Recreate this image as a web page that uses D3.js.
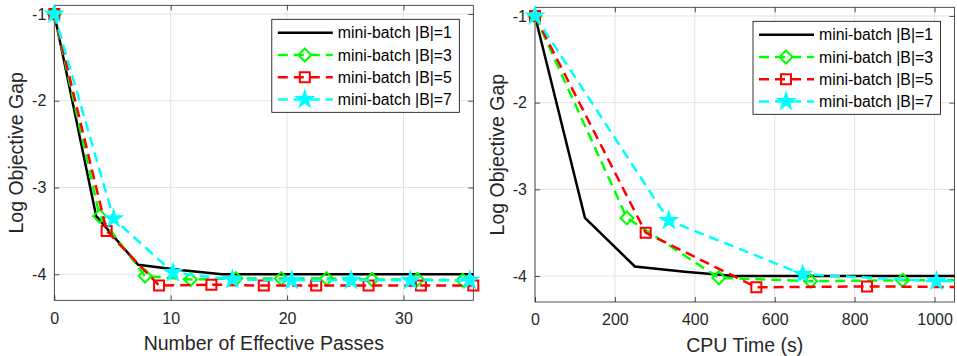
<!DOCTYPE html>
<html>
<head>
<meta charset="utf-8">
<script src="https://cdn.jsdelivr.net/npm/d3@7"></script>
<style>
  body { margin: 0; background: #fff; }
  svg { display: block; font-family: "Liberation Sans", Arial, Helvetica, sans-serif; }
</style>
</head>
<body>
<div id="chart"></div>
<script>
// series data
const labels = ["mini-batch |B|=1", "mini-batch |B|=3", "mini-batch |B|=5", "mini-batch |B|=7"];

const passesB1 = [0, 3.6, 7.2, 10.8, 14.4, 18, 21.6, 25.2, 28.8, 32.4, 36];
const timeB1   = [0, 125, 250, 375, 500, 625, 750, 875, 1000, 1125, 1250];
const gapB1    = [-1, -3.33, -3.89, -3.95, -4.0, -4.0, -4.0, -4.0, -4.0, -4.0, -4.0];

const passesB3 = [0, 3.9, 7.8, 11.7, 15.6, 19.5, 23.4, 27.3, 31.2, 35.1];
const timeB3   = [0, 230, 460, 690, 920, 1150, 1380, 1610, 1840, 2070];
const gapB3    = [-1, -3.33, -4.02, -4.06, -4.05, -4.05, -4.05, -4.06, -4.06, -4.07];

const passesB5 = [0, 4.5, 9, 13.5, 18, 22.5, 27, 31.5, 36];
const timeB5   = [0, 277, 554, 831, 1108, 1385, 1662, 1939, 2216];
const gapB5    = [-1, -3.5, -4.13, -4.12, -4.13, -4.13, -4.13, -4.13, -4.13];

const passesB7 = [0, 5.1, 10.2, 15.3, 20.4, 25.5, 30.6, 35.7];
const timeB7   = [0, 335, 670, 1005, 1340, 1675, 2010, 2345];
const gapB7    = [-1, -3.36, -3.98, -4.06, -4.07, -4.07, -4.07, -4.07];

const passTicks = [0, 10, 20, 30];
const timeTicks = [0, 200, 400, 600, 800, 1000];
const gapTicks  = [-4, -3, -2, -1];

const W = 957, H = 356;
const axisColor = "#262626";

const seriesStyle = [
  { color: "#000000", dash: null,   marker: null },
  { color: "#00ff00", dash: "10,6", marker: "diamond" },
  { color: "#ff0000", dash: "10,6", marker: "square" },
  { color: "#00ffff", dash: "10,6", marker: "star" }
];

function markerPath(type) {
  if (type == "diamond") {
    var r = 6.5;
    return "M0," + (-r) + "L" + r + ",0L0," + r + "L" + (-r) + ",0Z";
  }
  if (type == "square") {
    var s = 5;
    return "M" + (-s) + "," + (-s) + "H" + s + "V" + s + "H" + (-s) + "Z";
  }
  if (type == "star") {
    var ro = 8, ri = ro * 0.382, pts = [];
    for (var i = 0; i < 10; i++) {
      var a = -Math.PI / 2 + i * Math.PI / 5;
      var rr = i % 2 ? ri : ro;
      pts.push([rr * Math.cos(a), rr * Math.sin(a)]);
    }
    return "M" + pts.map(p => p.join(",")).join("L") + "Z";
  }
  return null;
}

const svg = d3.select("#chart").append("svg")
  .attr("width", W).attr("height", H);

function drawPanel(cfg) {
  const x = d3.scaleLinear().domain(cfg.xDomain).range([cfg.left, cfg.right]);
  const y = d3.scaleLinear().domain([-4.3, -0.9]).range([cfg.bottom, cfg.top]);
  const g = svg.append("g");

  const clipId = "clip" + cfg.id;
  svg.append("clipPath").attr("id", clipId).append("rect")
    .attr("x", cfg.left).attr("y", cfg.top)
    .attr("width", cfg.right - cfg.left).attr("height", cfg.bottom - cfg.top);

  // grid
  g.selectAll(".gx").data(cfg.xTicks).enter().append("line")
    .attr("x1", d => x(d)).attr("x2", d => x(d))
    .attr("y1", cfg.top).attr("y2", cfg.bottom)
    .attr("stroke", "#e3e3e3").attr("stroke-width", 1);
  g.selectAll(".gy").data(gapTicks).enter().append("line")
    .attr("x1", cfg.left).attr("x2", cfg.right)
    .attr("y1", d => y(d)).attr("y2", d => y(d))
    .attr("stroke", "#e3e3e3").attr("stroke-width", 1);

  // axes (inward ticks, box on)
  const bottomAxis = d3.axisBottom(x).tickValues(cfg.xTicks).tickSizeInner(-5).tickSizeOuter(0).tickPadding(12)
    .tickFormat(d => String(d));
  const topAxis = d3.axisTop(x).tickValues(cfg.xTicks).tickSizeInner(-5).tickSizeOuter(0).tickFormat("");
  const leftAxis = d3.axisLeft(y).tickValues(gapTicks).tickSizeInner(-5).tickSizeOuter(0).tickPadding(8)
    .tickFormat(d => String(d));
  const rightAxis = d3.axisRight(y).tickValues(gapTicks).tickSizeInner(-5).tickSizeOuter(0).tickFormat("");

  const axG = [
    g.append("g").attr("transform", "translate(0," + cfg.bottom + ")").call(bottomAxis),
    g.append("g").attr("transform", "translate(0," + cfg.top + ")").call(topAxis),
    g.append("g").attr("transform", "translate(" + cfg.left + ",0)").call(leftAxis),
    g.append("g").attr("transform", "translate(" + cfg.right + ",0)").call(rightAxis)
  ];
  axG.forEach(a => {
    a.select(".domain").remove();
    a.selectAll("line").attr("stroke", axisColor).attr("stroke-width", 0.8);
    a.selectAll("text").attr("fill", axisColor).style("font-size", "16px").attr("font-family", null);
  });
  g.append("rect")
    .attr("x", cfg.left).attr("y", cfg.top)
    .attr("width", cfg.right - cfg.left).attr("height", cfg.bottom - cfg.top)
    .attr("fill", "none").attr("stroke", axisColor).attr("stroke-width", 0.8);

  // series
  const line = d3.line().x(d => x(d[0])).y(d => y(d[1]));
  cfg.series.forEach((s, i) => {
    const st = seriesStyle[i];
    const pts = s.xs.map((v, k) => [v, s.ys[k]]);
    g.append("path").datum(pts)
      .attr("clip-path", "url(#" + clipId + ")")
      .attr("d", line)
      .attr("fill", "none")
      .attr("stroke", st.color)
      .attr("stroke-width", 2.5)
      .attr("stroke-dasharray", st.dash);
    if (st.marker) {
      const inside = pts.filter(p => p[0] >= cfg.xDomain[0] && p[0] <= cfg.xDomain[1] + 1e-9);
      g.selectAll(".m" + i).data(inside).enter().append("path")
        .attr("transform", d => "translate(" + x(d[0]) + "," + y(d[1]) + ")")
        .attr("d", markerPath(st.marker))
        .attr("fill", st.marker == "star" ? st.color : "none")
        .attr("stroke", st.color)
        .attr("stroke-width", 2)
        .attr("stroke-linejoin", "miter");
    }
  });

  // labels
  g.append("text")
    .attr("x", (cfg.left + cfg.right) / 2).attr("y", cfg.bottom + 50)
    .attr("text-anchor", "middle").attr("fill", axisColor)
    .style("font-size", "19.5px").text(cfg.xLabel);
  g.append("text")
    .attr("transform", "translate(" + (cfg.left - 31) + "," + ((cfg.top + cfg.bottom) / 2) + ") rotate(-90)")
    .attr("text-anchor", "middle").attr("fill", axisColor)
    .style("font-size", "19.5px").text("Log Objective Gap");

  // legend
  const lgW = 187.5, lgH = 93, rowH = 22.2;
  const lg = g.append("g")
    .attr("transform", "translate(" + (cfg.right - 14 - lgW) + "," + (cfg.top + 14) + ")");
  lg.append("rect").attr("width", lgW).attr("height", lgH)
    .attr("fill", "#fff").attr("stroke", "#000").attr("stroke-width", 0.8);
  labels.forEach((lab, i) => {
    const st = seriesStyle[i];
    const ry = 13.5 + i * rowH;
    lg.append("line")
      .attr("x1", 6).attr("x2", 61).attr("y1", ry).attr("y2", ry)
      .attr("stroke", st.color).attr("stroke-width", 2.5)
      .attr("stroke-dasharray", st.dash);
    if (st.marker) {
      lg.append("path")
        .attr("transform", "translate(33," + ry + ")")
        .attr("d", markerPath(st.marker))
        .attr("fill", st.marker == "star" ? st.color : "none")
        .attr("stroke", st.color).attr("stroke-width", 2);
    }
    lg.append("text")
      .attr("x", 66).attr("y", ry).attr("dy", "0.35em")
      .attr("fill", "#000").style("font-size", "15.8px").text(lab);
  });
}

drawPanel({
  id: "L", left: 54.3, right: 473.3, top: 5.3, bottom: 300.3,
  xDomain: [0, 36], xTicks: passTicks, xLabel: "Number of Effective Passes",
  series: [
    { xs: passesB1, ys: gapB1 },
    { xs: passesB3, ys: gapB3 },
    { xs: passesB5, ys: gapB5 },
    { xs: passesB7, ys: gapB7 }
  ]
});

drawPanel({
  id: "R", left: 535, right: 954.5, top: 7.3, bottom: 302,
  xDomain: [0, 1050], xTicks: timeTicks, xLabel: "CPU Time (s)",
  series: [
    { xs: timeB1, ys: gapB1 },
    { xs: timeB3, ys: gapB3 },
    { xs: timeB5, ys: gapB5 },
    { xs: timeB7, ys: gapB7 }
  ]
});
</script>
</body>
</html>
